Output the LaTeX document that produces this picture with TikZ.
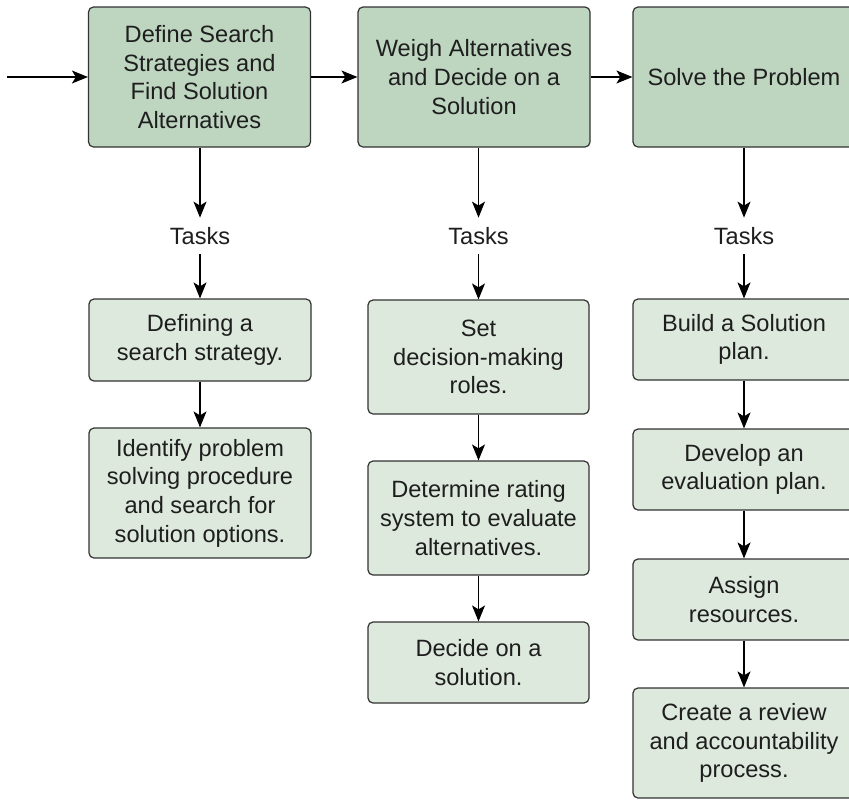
\documentclass[tikz,border=0pt]{standalone}
\usepackage{fontspec}
\setmainfont{Liberation Sans}
\usepackage{tikz}
\usetikzlibrary{arrows.meta}

\definecolor{stagefill}{RGB}{190,213,192}
\definecolor{taskfill}{RGB}{221,233,220}
\definecolor{edgegray}{RGB}{50,50,50}
\definecolor{textgray}{RGB}{30,30,30}

\begin{document}
\begin{tikzpicture}[x=0.5pt,y=-0.5pt,
    every node/.style={font=\fontsize{11.8}{14.3}\selectfont,text=textgray,align=center},
    stagebox/.style={draw=edgegray,line width=0.6pt,rounded corners=2.5pt,fill=stagefill,
      minimum width=111pt,minimum height=70pt,inner sep=2pt},
    taskbox/.style={draw=edgegray,line width=0.6pt,rounded corners=2.5pt,fill=taskfill,
      minimum width=111pt,inner sep=2pt},
    tasklbl/.style={inner sep=0pt,minimum height=18pt},
    arr/.style={draw=black,line width=0.55pt,-{Stealth[length=8pt,width=6.5pt,inset=2pt]}}]

    \useasboundingbox (0,0) rectangle (849,800);

    % Stages along the top
    \coordinate (in) at (7,77);
    \node[stagebox] (top1) at (199.5,77) {Define Search\\Strategies and\\Find Solution\\Alternatives};
    \node[stagebox,minimum width=116pt] (top2) at (474,77) {Weigh Alternatives\\and Decide on a\\Solution};
    \node[stagebox] (top3) at (744,77) {Solve the Problem};

    \draw[arr] (in) -- (top1);
    \draw[arr] (top1) -- (top2);
    \draw[arr] (top2) -- (top3);

    % Tasks labels under each stage
    \foreach \c/\x in {1/200,2/478.5,3/744} {
      \node[tasklbl] (tk\c) at (\x,236) {Tasks};
      \draw[arr] (tk\c |- top\c.south) -- (tk\c.north);
    }

    % Column 1
    \node[taskbox,minimum height=41pt] (s11) at (200,340) {Defining a\\search strategy.};
    \node[taskbox,minimum height=65pt] (s12) at (200,493) {Identify problem\\solving procedure\\and search for\\solution options.};

    % Column 2
    \node[taskbox,minimum width=110.5pt,minimum height=57pt] (s21) at (478.5,357) {Set\\decision-making\\roles.};
    \node[taskbox,minimum width=110.5pt,minimum height=57pt] (s22) at (478.5,518) {Determine rating\\system to evaluate\\alternatives.};
    \node[taskbox,minimum width=110.5pt,minimum height=40.5pt] (s23) at (478.5,662.5) {Decide on a\\solution.};

    % Column 3
    \node[taskbox,minimum height=40.5pt] (s31) at (744,339.5) {Build a Solution\\plan.};
    \node[taskbox,minimum height=40.5pt] (s32) at (744,469.5) {Develop an\\evaluation plan.};
    \node[taskbox,minimum height=40.5pt] (s33) at (744,599.5) {Assign\\resources.};
    \node[taskbox,minimum height=55pt] (s34) at (744,743) {Create a review\\and accountability\\process.};

    % Task chains
    \draw[arr] (tk1) -- (s11);
    \draw[arr] (s11) -- (s12);
    \draw[arr] (tk2) -- (s21);
    \draw[arr] (s21) -- (s22);
    \draw[arr] (s22) -- (s23);
    \draw[arr] (tk3) -- (s31);
    \draw[arr] (s31) -- (s32);
    \draw[arr] (s32) -- (s33);
    \draw[arr] (s33) -- (s34);

\end{tikzpicture}
\end{document}
